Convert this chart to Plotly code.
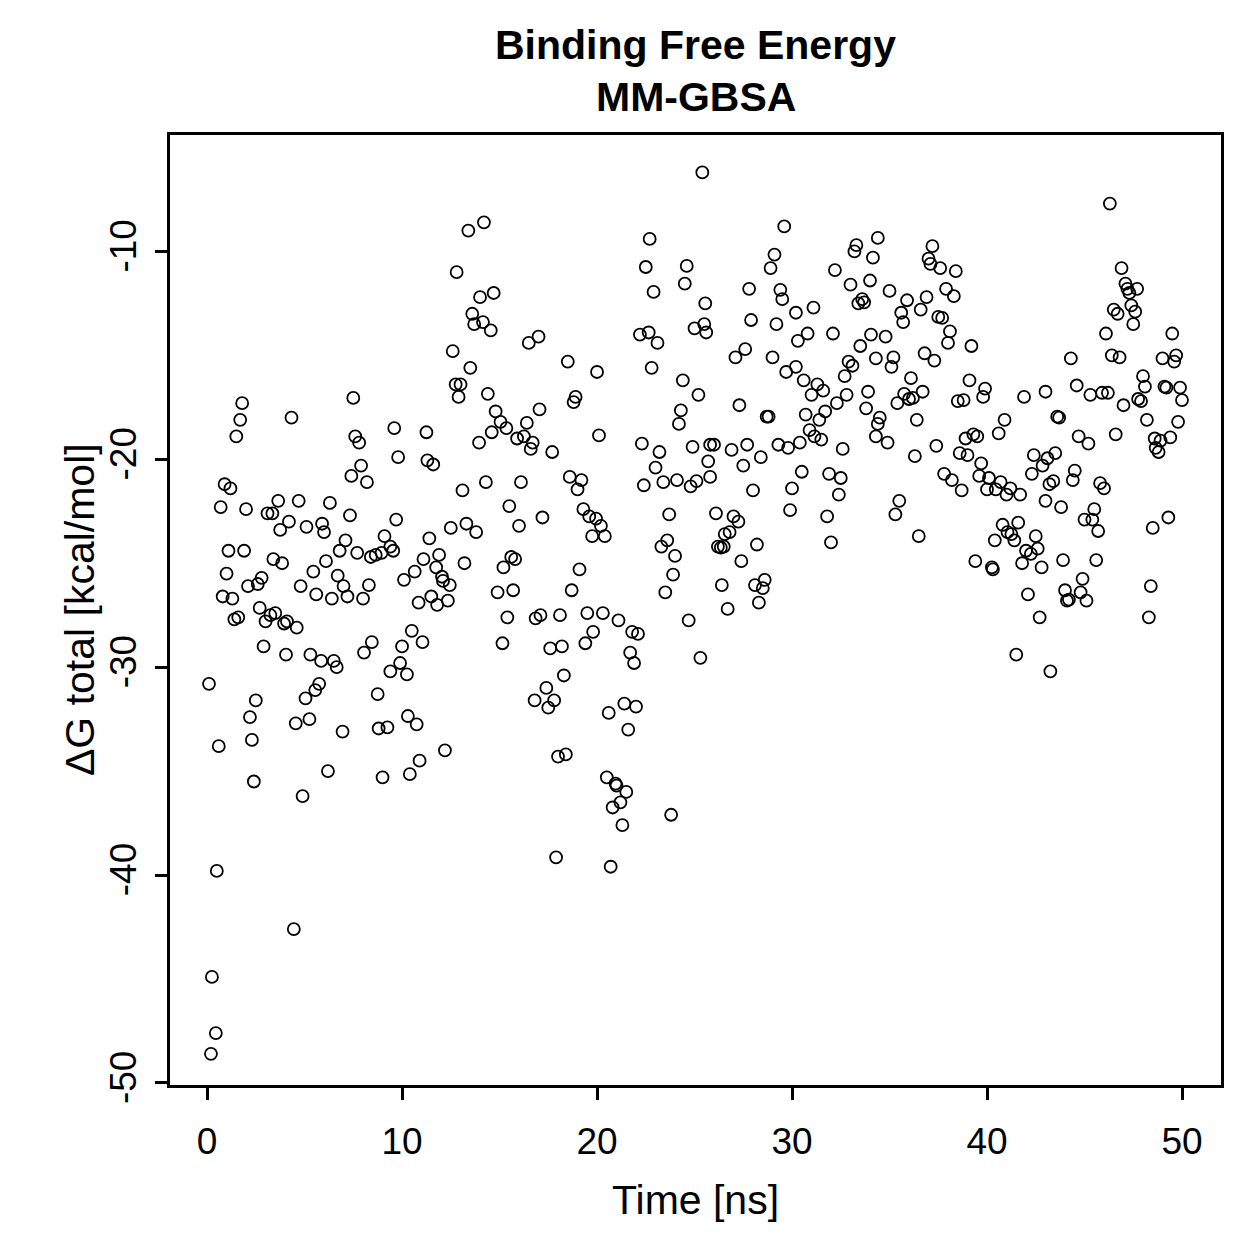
import plotly.graph_objects as go

# Time [ns] and ΔG total [kcal/mol]
time_ns = [
    0.1, 0.25, 0.2, 0.45, 0.5, 0.6, 0.7, 0.8, 0.9, 1.0, 1.1, 1.2, 1.3, 1.4, 1.5, 1.6, 1.7, 1.8, 1.9, 2.0,
    4.33, 7.5, 7.6, 7.8, 7.9, 7.4, 8.2, 3.65, 4.7, 6.3, 3.1, 3.35, 7.33, 4.2, 3.75, 5.1, 5.9, 6.0, 7.1, 6.8,
    7.7, 8.4, 3.4, 3.85, 6.1, 5.45, 2.8, 2.1, 2.6, 4.8, 6.7, 7.0, 5.6, 6.4, 7.2, 8.0, 8.3, 2.7, 3.5,
    3.25, 3.0, 3.95, 4.1, 4.6, 2.9, 4.05, 5.3, 5.85, 6.5, 6.65, 8.05, 8.45, 2.5, 2.2, 2.3, 2.4, 5.75, 5.55,
    5.05, 5.25, 4.55, 6.95, 6.2, 4.9, 4.45,
    14.2, 13.4, 12.8, 14.7, 14.0, 13.6, 13.7, 14.15, 14.55, 16.5, 17.0, 12.6, 13.5, 12.75, 13.0, 12.9, 14.4,
    17.05, 14.8, 15.05, 15.35, 16.4, 14.6, 15.9, 16.25, 16.7, 16.6, 13.95, 9.6, 11.25, 9.8, 11.3, 11.6, 13.1,
    14.3, 16.1, 15.5, 17.2, 16.0, 9.7, 9.1, 9.4, 9.55, 8.65, 8.95, 11.4, 12.5, 13.3, 13.8, 11.9, 11.1, 10.65,
    11.75, 12.05, 12.1, 12.45, 13.2, 15.6, 15.8, 15.2, 10.1, 10.85, 11.5, 11.8, 12.35, 14.9, 15.7, 15.4,
    16.85, 17.1,
    15.15, 16.8, 10.5, 11.05, 10.0, 9.9, 9.4, 10.25, 8.75, 10.3, 10.75, 8.8, 9.25, 12.2, 10.9, 10.4, 9.0,
    25.4, 22.7, 22.5, 24.6, 22.9, 24.5, 25.55, 25.0, 25.5, 25.6, 22.2, 22.65, 23.1, 18.5, 20.0, 22.8, 24.4,
    25.2, 18.9, 18.8, 24.3, 24.2, 20.1, 17.7, 22.3, 23.2, 23.0, 24.9, 25.8, 25.7, 25.8, 18.6, 19.2, 19.0,
    22.4, 23.4, 24.1, 24.8, 25.1, 19.3, 19.6, 19.95, 20.2, 19.75, 20.4, 23.7, 23.6, 23.3, 24.0, 23.9, 23.5,
    19.1, 18.7, 18.1, 19.5, 20.3, 21.1, 24.7,
    19.8, 19.4, 21.8, 22.1, 21.7, 21.9, 25.3, 17.6, 18.2, 18.3, 17.4, 17.8, 17.5, 20.6, 21.4, 22.0, 21.6,
    18.0, 18.4, 20.5, 20.95, 21.0, 21.5, 21.2, 20.8, 21.3, 23.8, 17.9, 20.7,
    29.6, 29.1, 28.9, 33.3, 33.2, 34.4, 34.15, 32.2, 33.0, 34.0, 27.8, 29.4, 29.5, 33.4, 33.6, 33.7, 31.1,
    30.2, 27.9, 29.2, 30.8, 30.3, 32.1, 34.05, 33.5, 34.3, 27.6, 27.1, 29.0, 30.2, 29.7, 32.9, 33.1, 32.7,
    30.6, 31.3, 31.6, 31.0, 32.8, 33.9, 32.3, 27.3, 31.7, 30.7, 31.4, 33.8, 28.7, 28.8, 34.5, 34.4, 30.9,
    31.15, 31.5, 34.3, 32.6, 30.4, 29.3, 29.8, 27.7, 26.0, 26.9, 28.4,
    27.5, 30.5, 31.9, 32.5, 30.0, 28.0, 32.4, 29.9, 31.8, 26.1, 27.0, 27.25, 26.8, 26.55, 28.2, 32.0, 26.2,
    26.35, 26.5, 27.4, 28.6, 28.1, 28.5, 26.4, 28.3, 26.7,
    37.2, 37.0, 37.1, 37.6, 38.4, 35.0, 35.9, 36.9, 37.9, 38.3, 35.6, 35.7, 36.6, 37.5, 37.7, 38.1, 38.0,
    39.2, 34.8, 35.2, 35.1, 36.8, 37.3, 36.1, 39.1, 35.75, 36.0, 36.2, 36.7, 35.4, 38.5, 38.8, 39.9, 39.8,
    41.9, 43.0, 36.4, 40.9, 40.6, 34.9, 39.3, 39.5, 38.9, 37.4, 36.3, 38.6, 39.0, 39.7, 42.4, 43.1,
    42.85, 42.3, 37.8, 38.2, 38.7, 39.6, 40.1, 40.7, 41.2, 40.0, 40.45, 41.0, 41.7, 43.0, 43.2, 35.5, 35.3,
    36.5, 40.8, 41.6, 41.05, 41.25, 41.4, 40.4, 42.5, 42.0, 42.25, 42.6, 41.8, 42.8, 39.4, 40.25, 40.3,
    42.1, 42.7, 41.5, 43.25,
    46.3, 46.9, 47.1, 47.2, 47.3, 47.7, 47.4, 47.6, 47.5, 46.5, 46.7, 46.1, 49.5, 44.3, 46.4, 46.8, 49.0,
    49.7, 49.6, 48.0, 48.1, 49.1, 49.2, 49.9, 50.0, 44.6, 45.3, 45.9, 46.2, 47.0, 47.75, 47.9, 43.6, 43.7,
    48.2, 49.8, 44.7, 45.2, 46.6, 48.6, 48.9, 49.4, 48.65, 48.8, 43.5,
    44.5, 44.4, 43.4, 45.8, 46.0, 43.8, 45.5, 45.0, 45.4, 45.7, 49.3, 48.5, 43.9, 45.6, 44.9, 44.0, 44.8,
    44.1, 44.2, 45.1, 48.4, 48.3,
]

dg_total = [
    -30.8, -44.9, -48.6, -47.6, -39.8, -33.8, -22.3, -26.6, -21.2, -25.5, -24.4, -21.4, -26.7, -27.7, -18.9, -27.6, -18.1, -17.3, -24.4, -22.4,
    -18.0, -17.05, -18.9, -19.2, -20.3, -20.8, -21.1, -22.0, -22.0, -22.1, -22.6, -22.6, -22.7, -23.0, -23.4, -23.25, -23.1, -23.5, -23.9, -24.4,
    -24.5, -24.7, -24.8, -25.0, -24.9, -25.4, -25.7, -26.1, -26.0, -26.1, -25.6, -26.1, -26.5, -26.7, -26.6, -26.7, -26.05, -27.15, -27.4,
    -27.5, -27.8, -27.9, -27.8, -28.1, -29.0, -29.4, -29.4, -29.7, -29.7, -30.0, -29.3, -28.8, -31.6, -32.4, -33.5, -35.5, -30.8, -31.1,
    -31.5, -32.5, -32.7, -33.1, -35.0, -36.2, -42.6,
    -8.6, -9.0, -11.0, -12.0, -12.2, -13.0, -13.5, -13.4, -13.8, -14.4, -14.1, -14.8, -15.6, -16.4, -16.4, -17.0, -16.85,
    -17.6, -17.7, -18.2, -18.5, -18.25, -18.7, -19.0, -18.9, -19.2, -19.5, -19.2, -18.5, -18.7, -19.9, -20.05, -20.25, -21.5,
    -21.1, -21.1, -22.25, -22.8, -23.2, -22.9, -23.7, -24.2, -24.4, -24.6, -24.5, -23.8, -23.3, -23.1, -23.5, -24.6, -24.8, -25.4,
    -25.2, -25.65, -25.85, -26.05, -25.0, -24.7, -24.8, -25.2, -25.8, -26.9, -26.6, -27.0, -26.8, -26.4, -26.3, -27.6,
    -27.65, -27.5,
    -28.85, -31.6, -28.25, -28.8, -29.0, -29.8, -30.2, -30.35, -31.3, -32.35, -32.75, -32.95, -32.9, -34.0, -34.5, -35.15, -35.3,
    -6.2, -9.4, -10.75, -10.7, -11.95, -11.55, -12.5, -13.7, -13.5, -13.9, -14.0, -13.9, -14.4, -15.3, -15.8, -15.6, -16.2,
    -16.9, -17.0, -17.25, -17.65, -18.3, -18.85, -19.65, -19.25, -19.65, -20.4, -19.4, -19.3, -20.1, -20.85, -20.85, -21.0, -21.45,
    -21.25, -21.1, -21.0, -21.3, -21.05, -22.4, -22.75, -22.85, -23.2, -23.7, -23.7, -22.65, -23.9, -24.2, -24.65, -25.55, -26.4,
    -25.3, -26.3, -27.5, -27.4, -27.4, -27.75, -27.75,
    -28.3, -28.85, -28.3, -28.4, -29.3, -29.8, -29.55, -29.1, -29.0, -30.4, -31.0, -31.6, -31.95, -32.2, -31.75, -31.9, -33.0,
    -34.3, -34.2, -35.3, -35.6, -35.7, -36.0, -36.5, -36.75, -37.6, -37.1, -39.15, -39.6,
    -8.8, -10.15, -10.8, -9.7, -10.0, -9.35, -10.3, -10.9, -11.6, -11.4, -11.8, -11.85, -12.3, -12.5, -12.3, -12.45, -12.7,
    -12.95, -13.3, -13.5, -13.95, -14.3, -13.95, -14.0, -14.55, -15.15, -14.7, -15.1, -15.1, -15.55, -15.8, -15.3, -15.5, -16.0,
    -16.2, -16.4, -16.7, -16.9, -16.9, -16.75, -17.3, -17.4, -17.7, -17.85, -18.1, -17.55, -17.95, -17.95, -18.0, -18.3, -18.6,
    -18.9, -19.05, -18.9, -19.5, -19.2, -19.3, -19.45, -19.3, -19.3, -19.55, -19.9,
    -20.3, -20.6, -20.7, -20.9, -21.4, -21.5, -21.7, -22.45, -22.75, -22.6, -22.75, -23.0, -23.5, -23.6, -24.1, -24.0, -24.2,
    -24.25, -24.2, -24.9, -25.8, -26.05, -26.2, -26.05, -26.9, -27.2,
    -9.75, -10.35, -10.6, -10.8, -10.95, -11.9, -12.35, -12.2, -11.8, -12.15, -12.95, -13.4, -12.8, -13.15, -13.2, -13.85, -14.4,
    -14.55, -14.1, -15.1, -15.55, -14.9, -15.25, -16.1, -16.2, -16.85, -17.1, -17.05, -16.75, -17.3, -17.2, -17.15, -16.6, -17.0,
    -17.0, -16.75, -18.1, -18.1, -18.75, -19.2, -18.8, -18.9, -19.0, -19.35, -19.85, -19.7, -19.8, -20.2, -19.8, -19.95,
    -20.3, -20.7, -20.7, -21.0, -21.5, -20.8, -20.9, -21.1, -21.4, -21.45, -21.45, -21.7, -21.7, -22.0, -21.2, -22.0, -22.65,
    -23.7, -23.15, -23.05, -23.5, -23.6, -23.9, -23.9, -23.7, -24.4, -24.55, -24.3, -25.0, -25.2, -24.9, -25.2, -25.3,
    -26.5, -27.6, -29.4, -30.2,
    -7.7, -10.8, -11.55, -11.8, -12.0, -11.8, -12.6, -12.9, -13.5, -12.8, -13.0, -13.95, -13.95, -15.15, -15.0, -15.1, -15.15,
    -15.0, -15.3, -16.0, -16.5, -16.5, -16.55, -16.55, -17.15, -16.45, -16.9, -16.8, -16.8, -17.4, -17.1, -17.2, -17.95, -18.0,
    -18.1, -18.2, -18.9, -19.25, -18.8, -19.0, -19.1, -18.95, -19.45, -19.65, -19.7,
    -20.55, -21.0, -21.05, -21.15, -21.4, -22.3, -22.4, -22.9, -22.9, -23.45, -22.8, -23.3, -24.85, -24.85, -25.75, -26.3, -26.4,
    -26.8, -26.75, -26.8, -26.1, -27.6,
]

x_ticks = [0, 10, 20, 30, 40, 50]
x_tick_labels = ["0", "10", "20", "30", "40", "50"]
y_ticks = [-50, -40, -30, -20, -10]
y_tick_labels = ["-50", "-40", "-30", "-20", "-10"]
title_lines = ["Binding Free Energy", "MM-GBSA"]
x_label = "Time [ns]"
y_label = "ΔG total [kcal/mol]"

FONT = "Liberation Sans, Arial, Helvetica, sans-serif"

fig = go.Figure()
fig.add_trace(go.Scatter(
    x=time_ns, y=dg_total, mode="markers",
    marker=dict(symbol="circle-open", size=12, color="black", line=dict(width=1.8, color="black")),
    showlegend=False, cliponaxis=False,
))

axis_common = dict(
    showgrid=False, zeroline=False, showline=True, mirror=True,
    linecolor="black", linewidth=2.5,
    ticks="outside", ticklen=12, tickwidth=2.5, tickcolor="black",
    tickfont=dict(family=FONT, size=37, color="black"),
)

fig.update_layout(
    width=1259, height=1259,
    margin=dict(l=170, r=38, t=135, b=174),
    paper_bgcolor="white", plot_bgcolor="white",
    font=dict(family=FONT, color="black"),
    xaxis=dict(range=[-1.9, 52.0], tickvals=x_ticks, ticktext=x_tick_labels,
               ticklabelstandoff=10, **axis_common),
    yaxis=dict(range=[-50.1, -4.4], tickvals=y_ticks, ticktext=y_tick_labels, tickangle=-90,
               ticklabelstandoff=4, **axis_common),
    annotations=[
        dict(text="<b>%s</b>" % title_lines[0], xref="paper", yref="paper", x=0.5, y=1.0947,
             showarrow=False, xanchor="center", yanchor="middle", font=dict(family=FONT, size=41)),
        dict(text="<b>%s</b>" % title_lines[1], xref="paper", yref="paper", x=0.5, y=1.040,
             showarrow=False, xanchor="center", yanchor="middle", font=dict(family=FONT, size=41)),
        dict(text=x_label, xref="paper", yref="paper", x=0.5, y=-0.121,
             showarrow=False, xanchor="center", yanchor="middle", font=dict(family=FONT, size=41)),
        dict(text=y_label, xref="paper", yref="paper", x=-0.0856, y=0.5, textangle=-90,
             showarrow=False, xanchor="center", yanchor="middle", font=dict(family=FONT, size=41)),
    ],
)

fig.write_html("out.html")
